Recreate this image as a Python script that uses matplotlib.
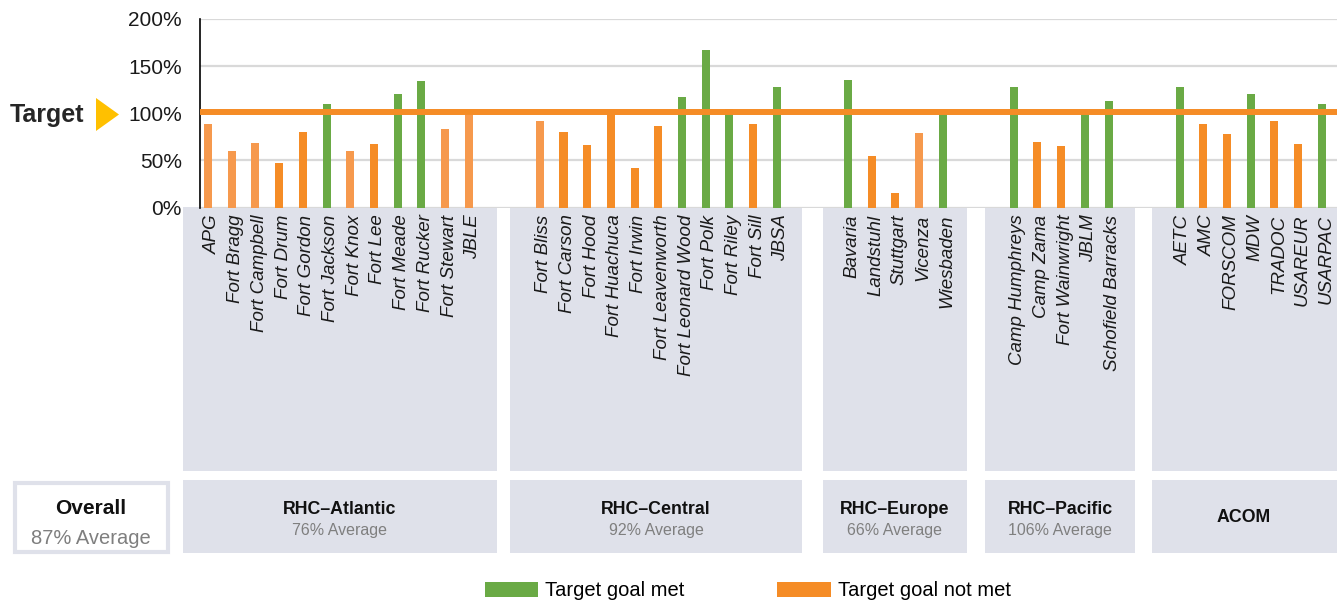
import matplotlib
matplotlib.use("Agg")
import matplotlib.pyplot as plt
from matplotlib import font_manager
from matplotlib.patches import Rectangle, Polygon, Patch
from matplotlib.transforms import ScaledTranslation

# data
atlantic = ["APG", "Fort Bragg", "Fort Campbell", "Fort Drum", "Fort Gordon", "Fort Jackson",
            "Fort Knox", "Fort Lee", "Fort Meade", "Fort Rucker", "Fort Stewart", "JBLE"]
atlantic_vals = [89, 60, 68, 47, 80, 110, 60, 67, 120, 134, 83, 98]

central = ["Fort Bliss", "Fort Carson", "Fort Hood", "Fort Huachuca", "Fort Irwin",
           "Fort Leavenworth", "Fort Leonard Wood", "Fort Polk", "Fort Riley", "Fort Sill", "JBSA"]
central_vals = [92, 80, 66, 99, 42, 87, 117, 167, 105, 89, 128]

europe = ["Bavaria", "Landstuhl", "Stuttgart", "Vicenza", "Wiesbaden"]
europe_vals = [135, 55, 16, 79, 100]

pacific = ["Camp Humphreys", "Camp Zama", "Fort Wainwright", "JBLM", "Schofield Barracks"]
pacific_vals = [128, 70, 65, 100, 113]

acom = ["AETC", "AMC", "FORSCOM", "MDW", "TRADOC", "USAREUR", "USARPAC"]
acom_vals = [128, 89, 78, 120, 92, 67, 110]

# bars drawn in the lighter orange shade
light_bars = ["APG", "Fort Bragg", "Fort Campbell", "Fort Knox", "Fort Stewart", "JBLE",
              "Fort Bliss", "Vicenza"]

group_names = ["RHC\u2013Atlantic", "RHC\u2013Central", "RHC\u2013Europe", "RHC\u2013Pacific", "ACOM"]
group_avgs = ["76% Average", "92% Average", "66% Average", "106% Average", ""]
overall_avg = "87% Average"

target = 100
target_line = 101.5

GREEN = "#6AAA45"
ORANGE = "#F58C26"
LIGHT_ORANGE = "#F6994D"
BOX = "#DFE1EA"
GRID = "#D9D9D9"

W, H = 1337, 605

def fx(px):
    return px / W

def fy(py):
    return 1 - py / H

avail = {f.name for f in font_manager.fontManager.ttflist}
narrow = "Liberation Sans Narrow" if "Liberation Sans Narrow" in avail else None
plt.rcParams["font.family"] = ["Liberation Sans", "DejaVu Sans"]

fig = plt.figure(figsize=(W / 100, H / 100), dpi=100)
ax = fig.add_axes([fx(200), fy(207.6), fx(1337) - fx(200), (207.6 - 19) / H])
ax.set_facecolor("none")

groups = [atlantic, central, europe, pacific, acom]
groups_vals = [atlantic_vals, central_vals, europe_vals, pacific_vals, acom_vals]

xs, vals, labels = [], [], []
pos = 0
for names, vs in zip(groups, groups_vals):
    for n, v in zip(names, vs):
        xs.append(pos)
        vals.append(v)
        labels.append(n)
        pos += 1
    pos += 2

colors = []
for n, v in zip(labels, vals):
    if v >= target:
        colors.append(GREEN)
    elif n in light_bars:
        colors.append(LIGHT_ORANGE)
    else:
        colors.append(ORANGE)

ax.bar(xs, vals, width=0.34, color=colors, zorder=2)
ax.axhline(target_line, color=ORANGE, lw=4.3, zorder=3)

ax.set_xlim(-0.34, 47.64)
ax.set_ylim(0, 200)
ax.set_yticks([0, 50, 100, 150, 200])
ax.set_yticklabels(["0%", "50%", "100%", "150%", "200%"])
ax.yaxis.grid(True, color=GRID, lw=1.6, zorder=0)
ax.set_axisbelow(True)
ax.tick_params(axis="y", length=0, pad=13, labelsize=15, labelcolor="#1a1a1a")
ax.tick_params(axis="x", length=0, pad=5)
for s in ["top", "right", "bottom"]:
    ax.spines[s].set_visible(False)
ax.spines["left"].set_linewidth(1.2)

ax.set_xticks(xs)
ax.set_xticklabels(labels, rotation=90, fontstyle="italic", fontsize=13.5, color="#1a1a1a")
shift = ScaledTranslation(4 / 100, 0, fig.dpi_scale_trans)
for lbl in ax.get_xticklabels():
    lbl.set_transform(lbl.get_transform() + shift)

# text sizes depend on whether the narrow face exists
if narrow:
    avg_font = {"family": narrow, "size": 13}
    leg_font = {"family": narrow, "size": 16.5}
else:
    avg_font = {"size": 11.5}
    leg_font = {"size": 14.5}

# group boxes (pixel layout)
box_spans = [(183, 497), (510, 802), (823, 967), (985, 1135), (1152, 1345)]
for (x0, x1), name, avg in zip(box_spans, group_names, group_avgs):
    fig.add_artist(Rectangle((fx(x0), fy(471)), fx(x1) - fx(x0), (471 - 207.3) / H,
                             transform=fig.transFigure, facecolor=BOX, edgecolor="none", zorder=-1))
    fig.add_artist(Rectangle((fx(x0), fy(553)), fx(x1) - fx(x0), (553 - 480) / H,
                             transform=fig.transFigure, facecolor=BOX, edgecolor="none", zorder=-1))
    cx = fx(min((x0 + x1) / 2, 1244))
    if avg:
        fig.text(cx, fy(509), name, ha="center", va="center", fontsize=12.8, fontweight="bold", color="#111111")
        fig.text(cx, fy(531), avg, ha="center", va="center", color="#7f7f7f", **avg_font)
    else:
        fig.text(cx, fy(518), name, ha="center", va="center", fontsize=12.8, fontweight="bold", color="#111111")

# overall box
fig.add_artist(Rectangle((fx(15), fy(552)), fx(168) - fx(15), (552 - 483) / H,
                         transform=fig.transFigure, facecolor="white", edgecolor=BOX, lw=3, zorder=-1))
fig.text(fx(91), fy(509), "Overall", ha="center", va="center", fontsize=15, fontweight="bold", color="#111111")
fig.text(fx(91), fy(538), overall_avg, ha="center", va="center", fontsize=14.5, color="#7f7f7f")

# target marker
fig.text(fx(10), fy(115), "Target", ha="left", va="center", fontsize=18, fontweight="bold", color="#262626")
fig.add_artist(Polygon([(fx(96), fy(98)), (fx(96), fy(131)), (fx(119), fy(114.5))], closed=True,
                       transform=fig.transFigure, facecolor="#FFC000", edgecolor="none"))

# legend
handles = [Patch(facecolor=GREEN, label="Target goal met"),
           Patch(facecolor=ORANGE, label="Target goal not met")]
fig.legend(handles=handles, loc="center left", bbox_to_anchor=(fx(485), fy(591)), ncol=2,
           frameon=False, borderpad=0, borderaxespad=0, handlelength=2.65, handleheight=0.75,
           handletextpad=0.35, columnspacing=4.6, prop=leg_font)

fig.savefig("out.png", dpi=100)
